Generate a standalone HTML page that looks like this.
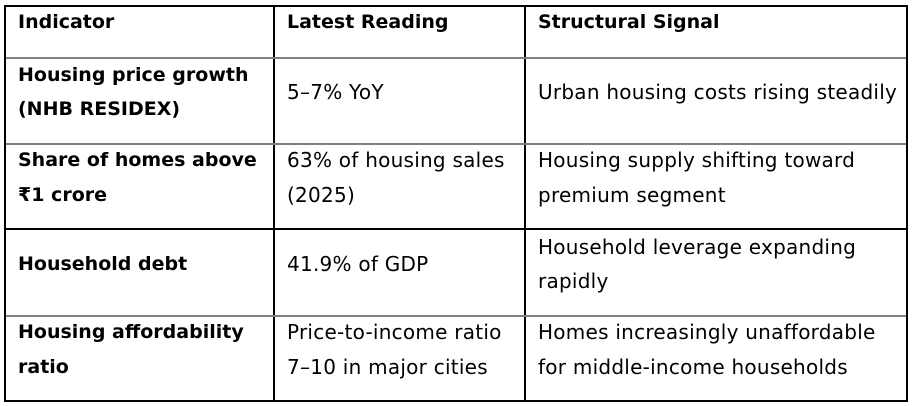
<!DOCTYPE html>
<html>
<head>
<meta charset="utf-8">
<style>
  html, body { margin:0; padding:0; background:#fff; }
  body { width:913px; height:406px; position:relative; overflow:hidden;
         font-family:"DejaVu Sans","Liberation Sans",sans-serif; color:#000; }
  .h { position:absolute; height:2px; }
  .v { position:absolute; width:2px; background:#000; }
  .k { background:#000; }
  .g { background:#808080; }
  .t { position:absolute; white-space:nowrap; line-height:34px; height:34px; }
  .r { font-size:20px; letter-spacing:0.25px; }
  .b { font-size:19px; font-weight:bold; }
</style>
</head>
<body>
  <!-- outer border -->
  <div class="h k" style="left:4px; top:5px; width:904px;"></div>
  <div class="h k" style="left:4px; top:400px; width:904px;"></div>
  <div class="v" style="left:4px; top:5px; height:397px;"></div>
  <div class="v" style="left:906px; top:5px; height:397px;"></div>
  <!-- inner verticals -->
  <div class="v" style="left:273px; top:5px; height:397px;"></div>
  <div class="v" style="left:524px; top:5px; height:397px;"></div>
  <!-- row separators -->
  <div class="h g" style="left:6px; top:57px; width:900px;"></div>
  <div class="h g" style="left:6px; top:143px; width:900px;"></div>
  <div class="h k" style="left:6px; top:228px; width:900px;"></div>
  <div class="h g" style="left:6px; top:315px; width:900px;"></div>

  <!-- header (baseline ~29) -->
  <div class="t b" style="left:18px; top:5px;">Indicator</div>
  <div class="t b" style="left:287px; top:5px;">Latest Reading</div>
  <div class="t b" style="left:538px; top:5px;">Structural Signal</div>

  <!-- row 1 -->
  <div class="t b" style="left:18px; top:58px;">Housing price growth</div>
  <div class="t b" style="left:18px; top:92px;">(NHB RESIDEX)</div>
  <div class="t r" style="left:287px; top:75px;">5–7% YoY</div>
  <div class="t r" style="left:538px; top:75px;">Urban housing costs rising steadily</div>

  <!-- row 2 -->
  <div class="t b" style="left:18px; top:143px;">Share of homes above</div>
  <div class="t b" style="left:18px; top:178px;">₹1 crore</div>
  <div class="t r" style="left:287px; top:143px;">63% of housing sales</div>
  <div class="t r" style="left:287px; top:178px;">(2025)</div>
  <div class="t r" style="left:538px; top:143px;">Housing supply shifting toward</div>
  <div class="t r" style="left:538px; top:178px;">premium segment</div>

  <!-- row 3 -->
  <div class="t b" style="left:18px; top:247px;">Household debt</div>
  <div class="t r" style="left:287px; top:247px;">41.9% of GDP</div>
  <div class="t r" style="left:538px; top:230px;">Household leverage expanding</div>
  <div class="t r" style="left:538px; top:264px;">rapidly</div>

  <!-- row 4 -->
  <div class="t b" style="left:18px; top:315px;">Housing affordability</div>
  <div class="t b" style="left:18px; top:350px;">ratio</div>
  <div class="t r" style="left:287px; top:315px;">Price-to-income ratio</div>
  <div class="t r" style="left:287px; top:350px;">7–10 in major cities</div>
  <div class="t r" style="left:538px; top:315px;">Homes increasingly unaffordable</div>
  <div class="t r" style="left:538px; top:350px;">for middle-income households</div>
</body>
</html>
